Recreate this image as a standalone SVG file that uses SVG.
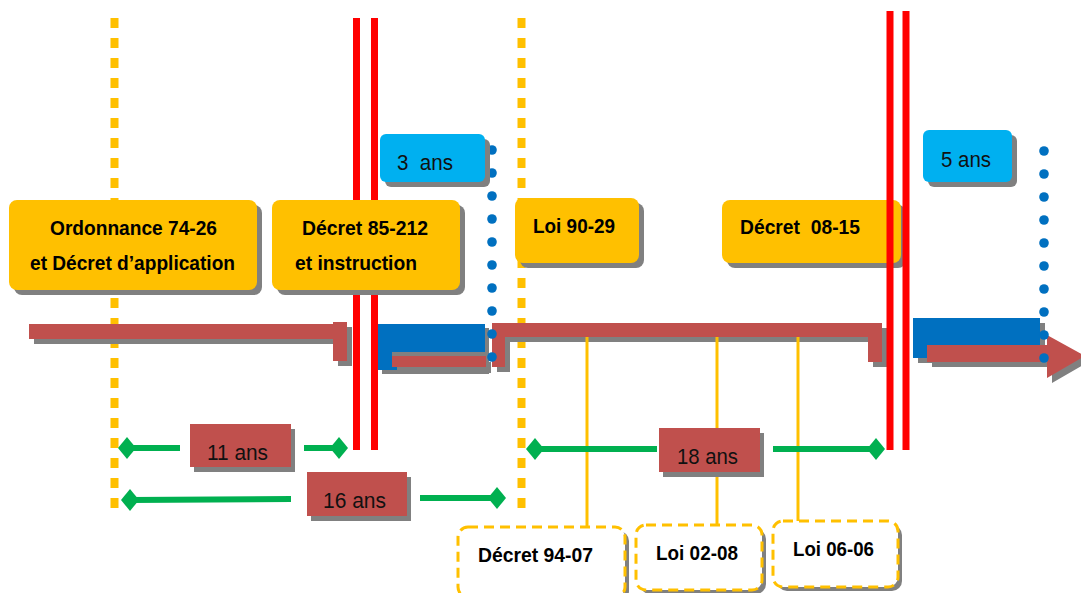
<svg xmlns="http://www.w3.org/2000/svg" width="1081" height="593" viewBox="0 0 1081 593">
<style>
.bg{fill:#ffffff}
.ydot{stroke:#FFC000;stroke-width:8;stroke-dasharray:10 10;fill:none}
.red{stroke:#FF0000;stroke-width:7;fill:none}
.bdot{fill:#0070C0}
.yline{stroke:#FFC000;stroke-width:3;fill:none}
.green{stroke:#00B050;stroke-width:6;fill:none}
.dia{fill:#00B050}
.tl{fill:#C0504D}
.sh{fill:#808080}
.blue{fill:#0070C0}
.lblue{fill:#00B0F0}
.ybox{fill:#FFC000}
.dbox{fill:#ffffff;stroke:#FFC000;stroke-width:3;stroke-dasharray:10 6}
.rbox{fill:#C0504D}
.bt{font-family:"Liberation Sans",Arial,sans-serif;font-weight:bold;font-size:20.5px;fill:#000000}
.bs{font-size:20px}
.nt{font-family:"Liberation Sans",Arial,sans-serif;font-size:22px;fill:#111111;white-space:pre}
</style>
<defs>
  <g id="dotcol">
    <circle class="bdot" cx="0" cy="0" r="4.8"/>
    <circle class="bdot" cx="0" cy="23" r="4.8"/>
    <circle class="bdot" cx="0" cy="46" r="4.8"/>
    <circle class="bdot" cx="0" cy="69" r="4.8"/>
    <circle class="bdot" cx="0" cy="92" r="4.8"/>
    <circle class="bdot" cx="0" cy="115" r="4.8"/>
    <circle class="bdot" cx="0" cy="138" r="4.8"/>
    <circle class="bdot" cx="0" cy="161" r="4.8"/>
    <circle class="bdot" cx="0" cy="184" r="4.8"/>
    <circle class="bdot" cx="0" cy="207" r="4.8"/>
  </g>
</defs>
<rect class="bg" x="0" y="0" width="1081" height="593"/>

<g id="connectors">
  <line class="ydot" x1="114.5" y1="18" x2="114.5" y2="512"/>
  <line class="ydot" x1="521.5" y1="18" x2="521.5" y2="512"/>
  <path class="sh" transform="translate(5,5)" d="M29,324 H333 V322 H347 V361 H333 V339 H29 Z"/>
  <path class="tl" d="M29,324 H333 V322 H347 V361 H333 V339 H29 Z"/>
  <rect class="sh" x="382" y="328" width="107" height="46"/>
  <rect class="blue" x="378" y="324" width="107" height="46"/>
  <rect class="sh" x="392" y="352" width="94" height="5"/>
  <rect class="sh" x="397" y="362" width="94" height="11"/>
  <rect class="tl" x="392" y="356" width="94" height="11"/>
  <path class="sh" transform="translate(5,5)" d="M492,323 H882 V362 H868 V337 H505 V367 H492 Z"/>
  <path class="tl" d="M492,323 H882 V362 H868 V337 H505 V367 H492 Z"/>
  <rect class="sh" x="918" y="323" width="127" height="40"/>
  <rect class="blue" x="913" y="318" width="127" height="40"/>
  <path class="sh" transform="translate(5,5)" d="M927,345 H1047 V335 L1085,356 L1047,378 V362 H927 Z"/>
  <path class="tl" d="M927,345 H1047 V335 L1085,356 L1047,378 V362 H927 Z"/>
  <line class="yline" x1="587" y1="337" x2="587" y2="528"/>
  <line class="yline" x1="717" y1="337" x2="717" y2="526"/>
  <line class="yline" x1="798" y1="337" x2="798" y2="522"/>
  <line class="red" x1="356.5" y1="18" x2="356.5" y2="450"/>
  <line class="red" x1="374.5" y1="18" x2="374.5" y2="450"/>
  <use href="#dotcol" x="492" y="150"/>
  <use href="#dotcol" x="1044" y="151"/>
  <line class="green" x1="127" y1="448" x2="180" y2="448"/>
  <line class="green" x1="304" y1="448" x2="339" y2="448"/>
  <polygon class="dia" points="118,448 127,437 136,448 127,459"/>
  <polygon class="dia" points="330,448 339,437 348,448 339,459"/>
  <line class="green" x1="130" y1="500" x2="291" y2="499"/>
  <line class="green" x1="420" y1="498" x2="497" y2="498"/>
  <polygon class="dia" points="121,500 130,489 139,500 130,511"/>
  <polygon class="dia" points="488,498 497,487 506,498 497,509"/>
  <line class="green" x1="535" y1="449" x2="657" y2="449"/>
  <line class="green" x1="773" y1="449" x2="876" y2="449"/>
  <polygon class="dia" points="526,449 535,438 544,449 535,460"/>
  <polygon class="dia" points="867,449 876,438 885,449 876,460"/>
</g>

<g id="ordonnance-74-26">
  <rect class="sh" x="14" y="205" width="248" height="90" rx="8"/>
  <rect class="ybox" x="9" y="200" width="248" height="90" rx="8"/>
  <text class="bt" x="50" y="235" textLength="167" lengthAdjust="spacingAndGlyphs">Ordonnance 74-26</text>
  <text class="bt" x="30" y="270" textLength="205" lengthAdjust="spacingAndGlyphs">et Décret d’application</text>
</g>

<g id="decret-85-212">
  <rect class="sh" x="277" y="205" width="188" height="90" rx="8"/>
  <rect class="ybox" x="272" y="200" width="188" height="90" rx="8"/>
  <text class="bt" x="302" y="235" textLength="126" lengthAdjust="spacingAndGlyphs">Décret 85-212</text>
  <text class="bt" x="295" y="270" textLength="122" lengthAdjust="spacingAndGlyphs">et instruction</text>
</g>

<g id="duree-3-ans">
  <rect class="sh" x="385" y="139" width="105" height="48" rx="6"/>
  <rect class="lblue" x="380" y="134" width="105" height="48" rx="6"/>
  <text class="nt" x="397" y="170" textLength="56" lengthAdjust="spacingAndGlyphs">3  ans</text>
</g>

<g id="loi-90-29">
  <rect class="sh" x="520" y="203" width="124" height="65" rx="8"/>
  <rect class="ybox" x="515" y="198" width="124" height="65" rx="8"/>
  <text class="bt" x="533" y="233" textLength="82" lengthAdjust="spacingAndGlyphs">Loi 90-29</text>
</g>

<g id="decret-08-15">
  <rect class="sh" x="727" y="205" width="179" height="63" rx="8"/>
  <rect class="ybox" x="722" y="200" width="179" height="63" rx="8"/>
  <text class="bt" x="740" y="234" textLength="120" lengthAdjust="spacingAndGlyphs" style="white-space:pre">Décret  08-15</text>
</g>

<g id="red-line-2">
  <line class="red" x1="890" y1="11" x2="890" y2="450"/>
  <line class="red" x1="906" y1="11" x2="906" y2="450"/>
</g>

<g id="duree-5-ans">
  <rect class="sh" x="928" y="135" width="89" height="52" rx="6"/>
  <rect class="lblue" x="923" y="130" width="89" height="52" rx="6"/>
  <text class="nt" x="941" y="167" textLength="50" lengthAdjust="spacingAndGlyphs">5 ans</text>
</g>

<g id="duree-11-ans">
  <rect class="sh" x="194" y="429" width="101" height="43"/>
  <rect class="rbox" x="190" y="424" width="101" height="43"/>
  <text class="nt" x="207" y="460" textLength="61" lengthAdjust="spacingAndGlyphs">11 ans</text>
</g>

<g id="duree-16-ans">
  <rect class="sh" x="311" y="477" width="100" height="44"/>
  <rect class="rbox" x="307" y="472" width="100" height="44"/>
  <text class="nt" x="323" y="508" textLength="63" lengthAdjust="spacingAndGlyphs">16 ans</text>
</g>

<g id="duree-18-ans">
  <rect class="sh" x="663" y="433" width="101" height="44"/>
  <rect class="rbox" x="659" y="428" width="101" height="44"/>
  <text class="nt" x="677" y="464" textLength="61" lengthAdjust="spacingAndGlyphs">18 ans</text>
</g>

<g id="decret-94-07">
  <rect class="sh" x="462" y="531" width="167" height="70" rx="10"/>
  <rect class="dbox" x="458" y="527" width="167" height="70" rx="10"/>
  <text class="bt bs" x="478" y="562" textLength="115" lengthAdjust="spacingAndGlyphs">Décret 94-07</text>
</g>

<g id="loi-02-08">
  <rect class="sh" x="640" y="529" width="126" height="65" rx="10"/>
  <rect class="dbox" x="636" y="525" width="126" height="65" rx="10"/>
  <text class="bt bs" x="656" y="560" textLength="82" lengthAdjust="spacingAndGlyphs">Loi 02-08</text>
</g>

<g id="loi-06-06">
  <rect class="sh" x="777" y="525" width="125" height="66" rx="10"/>
  <rect class="dbox" x="773" y="521" width="125" height="66" rx="10"/>
  <text class="bt bs" x="793" y="556" textLength="81" lengthAdjust="spacingAndGlyphs">Loi 06-06</text>
</g>
</svg>
